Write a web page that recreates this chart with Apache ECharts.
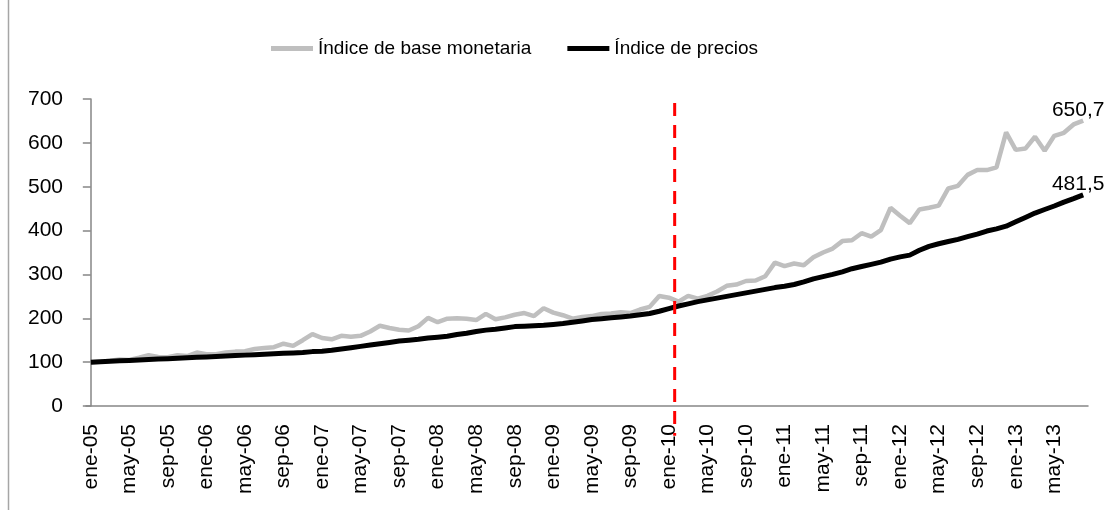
<!DOCTYPE html>
<html>
<head>
<meta charset="utf-8">
<script src="https://cdn.jsdelivr.net/npm/echarts@6/dist/echarts.min.js"></script>
<style>
    html, body { margin: 0; padding: 0; background: #fff; }
    #chart { width: 1107px; height: 510px; }
</style>
</head>
<body>
<div id="chart"></div>
<script>
{
    /*datos - mensual ene-05 a ago-13*/
    const meses = ['ene','feb','mar','abr','may','jun','jul','ago','sep','oct','nov','dic'];
    const anios = ['05','06','07','08','09','10','11','12','13'];
    const categorias = [];
    anios.forEach(a => meses.forEach(m => categorias.push(m + '-' + a)));
    categorias.length = 104;

    const baseMonetaria = [
        100, 101, 103, 106, 105, 110, 116, 112, 111, 116, 114, 122,
        118, 118, 122, 124, 125, 130, 132, 134, 142, 137, 150, 164,
        155, 152, 160, 158, 160, 170, 183, 178, 174, 172, 182, 201,
        191, 199, 200, 199, 196, 210, 198, 202, 208, 212, 205, 223,
        213, 207, 199, 203, 205, 210, 211, 214, 212, 220, 226, 251,
        247, 238, 251, 245, 251, 261, 274, 277, 285, 286, 296, 327,
        319, 325, 321, 339, 350, 359, 376, 378, 394, 386, 401, 452,
        434, 417, 448, 452, 457, 496, 502, 527, 538, 538, 544, 624,
        584, 587, 614, 582, 616, 623, 642, 650.7
    ];
    const precios = [
        100, 101, 102, 103, 104, 105, 106, 107, 108, 109, 110, 111,
        112, 113, 114, 115, 116, 117, 118, 119, 120, 121, 122, 124,
        125, 127, 130, 133, 136, 139, 142, 145, 148, 150, 152, 155,
        157, 159, 163, 166, 170, 173, 175, 178, 181, 182, 183, 184,
        186, 188, 191, 194, 197, 199, 201, 203, 205, 208, 211, 216,
        222, 228, 233, 238, 242, 246, 250, 254, 258, 262, 266, 270,
        273, 277, 283, 290, 295, 300, 306, 313, 318, 323, 328, 335,
        340, 344, 355, 364, 370, 375, 380, 386, 392, 399, 404, 410,
        420, 430, 440, 448, 456, 465, 473, 481.5
    ];
    const yTicks = [0, 100, 200, 300, 400, 500, 600, 700];

    /*linea de corte (ene-10) y su alcance vertical*/
    const corte = 60.6;
    const corteTramo = [691, -68];

    const chart = echarts.init(document.getElementById('chart'));

    const fuente = 'Liberation Sans';
    const gris = '#868686';

    /*solo el ultimo punto lleva etiqueta*/
    const conEtiqueta = arr => arr.map((v, i) => i === arr.length - 1
        ? {value: v, label: {show: true}} : v);
    const etiqueta = {
        position: 'top',
        distance: 0,
        offset: [-5, 0],
        color: '#000',
        fontSize: 21,
        fontFamily: fuente,
        formatter: p => String(p.value).replace('.', ',')
    };

    const option = {
        animation: false,
        textStyle: {fontFamily: fuente},
        graphic: [{
            type: 'line',
            shape: {x1: 8.5, y1: 0, x2: 8.5, y2: 510},
            style: {stroke: '#a6a6a6', lineWidth: 1.5}
        }],
        legend: {
            data: ['Índice de base monetaria', 'Índice de precios'],
            left: 271,
            top: 39,
            padding: 0,
            icon: 'rect',
            itemWidth: 42,
            itemHeight: 5,
            itemGap: 36,
            textStyle: {fontSize: 19, color: '#000', fontFamily: fuente}
        },
        grid: {
            left: 86, right: 19, top: 99, bottom: 104,
            outerBoundsMode: 'none'
        },
        xAxis: [{
            type: 'category',
            data: categorias,
            boundaryGap: true,
            axisLine: {lineStyle: {color: gris, width: 1.5}},
            axisTick: {interval: 3, length: 8, lineStyle: {color: gris, width: 1.5}},
            axisLabel: {
                interval: 3, rotate: 90, margin: 18,
                color: '#000', fontSize: 21, fontFamily: fuente
            }
        }, {
            type: 'value',
            min: -0.5,
            max: categorias.length - 0.5,
            show: false
        }],
        yAxis: {
            type: 'value',
            min: yTicks[0],
            max: yTicks[yTicks.length - 1],
            interval: 100,
            splitLine: {show: false},
            axisLine: {show: true, lineStyle: {color: gris, width: 1.5}},
            axisTick: {show: true, length: 8, lineStyle: {color: gris, width: 1.5}},
            axisLabel: {margin: 23, color: '#000', fontSize: 21, fontFamily: fuente}
        },
        series: [
            {
                name: 'Índice de base monetaria',
                type: 'line',
                data: conEtiqueta(baseMonetaria),
                color: '#bfbfbf',
                lineStyle: {width: 4.5, color: '#bfbfbf'},
                symbol: 'circle',
                symbolSize: 0,
                showSymbol: true,
                showAllSymbol: true,
                label: etiqueta
            },
            {
                name: 'Índice de precios',
                type: 'line',
                data: conEtiqueta(precios),
                color: '#000',
                lineStyle: {width: 5, color: '#000'},
                symbol: 'circle',
                symbolSize: 0,
                showSymbol: true,
                showAllSymbol: true,
                label: etiqueta
            },
            {
                name: 'corte',
                type: 'line',
                xAxisIndex: 1,
                data: [[corte, corteTramo[0]], [corte, corteTramo[1]]],
                clip: false,
                symbol: 'none',
                silent: true,
                z: 5,
                lineStyle: {color: '#ff0000', width: 3, type: [13, 9]}
            }
        ]
    };

    chart.setOption(option);
}
</script>
</body>
</html>
